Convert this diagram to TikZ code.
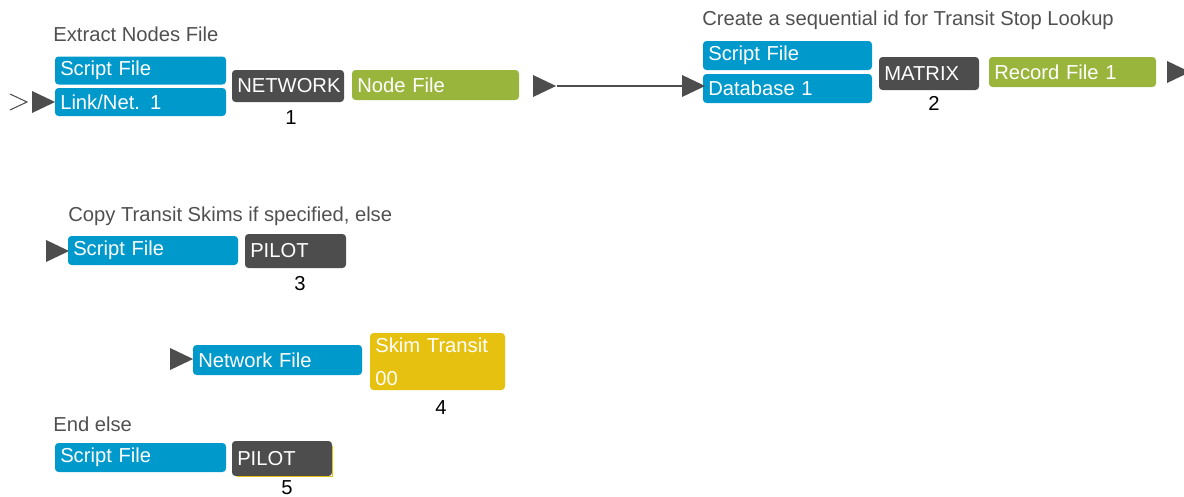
\documentclass[tikz,border=0pt]{standalone}
\usepackage{fontspec}
\setmainfont{Liberation Sans}
\usetikzlibrary{shapes.geometric}
\definecolor{fileblue}{RGB}{0,153,204}
\definecolor{progdark}{RGB}{77,77,77}
\definecolor{outgreen}{RGB}{154,181,60}
\definecolor{skimyellow}{RGB}{230,193,15}
\definecolor{labelgrey}{RGB}{80,80,80}
\newcommand{\boxfont}{\fontsize{11.5}{14}\selectfont}

\begin{document}
\begin{tikzpicture}[x=0.02cm, y=-0.02cm,
    box/.style={rounded corners=2pt, text=white, align=left, inner xsep=3pt, inner ysep=0pt, font=\boxfont},
    file/.style={box, fill=fileblue},
    prog/.style={box, fill=progdark},
    outf/.style={box, fill=outgreen},
    skim/.style={box, fill=skimyellow},
    sz/.style 2 args={text width=#1*0.02cm-6pt, minimum height=#2*0.02cm},
    port/.style={isosceles triangle, isosceles triangle stretches, fill=progdark, inner sep=0pt, minimum width=0.44cm, minimum height=0.46cm},
    title/.style={anchor=west, inner sep=0pt, text=labelgrey, font=\boxfont},
    num/.style={inner sep=0pt, font=\boxfont}]
    \useasboundingbox (0,0) rectangle (1184,497);
    % step 1
    \node[title] (t1) at (53,34) {Extract Nodes File};
    \node[file, sz={171}{28}] (sf1) at (140.5,70.5) {Script File};
    \node[file, sz={171}{28}] (ln1) at (140.5,102) {Link/Net. 1};
    \node[prog, sz={112}{32}] (net) at (288,86) {NETWORK};
    \node[outf, sz={167}{30}] (nf) at (435.5,85) {Node File};
    \node[num] (n1) at (291,118) {1};
    \node[port] (in1) at (39,102) {};
    \draw [labelgrey, line width=0.6pt] (10,94) -- (27,102) -- (10,110);
    \node[port] (out1) at (540,86) {};
    % step 2
    \node[title] (t2) at (702,20) {Create a sequential id for Transit Stop Lookup};
    \node[file, sz={169}{29}] (sf2) at (787.5,55.5) {Script File};
    \node[file, sz={169}{29}] (db2) at (787.5,88.5) {Database 1};
    \node[prog, sz={100}{33}] (mat) at (929,73.5) {MATRIX};
    \node[outf, sz={167}{30}] (rf) at (1072.5,72) {Record File 1};
    \node[num] (n2) at (934,103) {2};
    \node[port] (in2) at (689,86) {};
    \node[port] (out2) at (1174,72) {};
    \draw [progdark, line width=0.8pt] (out1) to node {} (in2);
    % step 3
    \node[title] (t3) at (68,216) {Copy Transit Skims if specified, else};
    \node[port] (in3) at (53,251) {};
    \node[file, sz={170}{29}] (sf3) at (153,250.5) {Script File};
    \node[prog, sz={101}{34}] (pil3) at (295.5,251) {PILOT};
    \node[num] (n3) at (300,284) {3};
    % step 4
    \node[port] (in4) at (177,359) {};
    \node[file, sz={169}{30}] (nw4) at (277.5,360) {Network File};
    \node[skim, sz={135}{57}] (skm) at (437.5,361.5) {Skim Transit\\[5pt]00};
    \node[num] (n4) at (441,408) {4};
    % step 5
    \node[title] (t5) at (53,424) {End else};
    \node[file, sz={171}{29}] (sf5) at (140.5,457.5) {Script File};
    \node[prog, sz={100}{35}] (pil5) at (282,458.5) {PILOT};
    \draw [skimyellow, line width=0.6pt] ([yshift=-3pt]pil5.north east) -- (pil5.south east) -- ([xshift=3pt]pil5.south west);
    \node[num] (n5) at (287,488) {5};
\end{tikzpicture}
\end{document}
